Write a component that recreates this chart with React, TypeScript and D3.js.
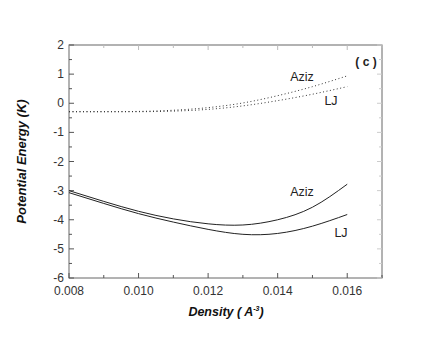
import * as d3 from "d3";

const densities = [0.008, 0.009, 0.010, 0.011, 0.012, 0.013, 0.014, 0.015, 0.016];
const azizSolid = [-3.0, -3.37, -3.71, -3.97, -4.14, -4.18, -4.0, -3.57, -2.78];
const ljSolid = [-3.07, -3.44, -3.79, -4.08, -4.33, -4.5, -4.47, -4.22, -3.82];
const azizDotted = [-0.29, -0.29, -0.28, -0.24, -0.15, 0.01, 0.26, 0.57, 0.94];
const ljDotted = [-0.29, -0.29, -0.29, -0.27, -0.21, -0.09, 0.09, 0.31, 0.57];

const xTicks = [0.008, 0.009, 0.010, 0.011, 0.012, 0.013, 0.014, 0.015, 0.016, 0.017];
const xTickLabels = ["0.008", "", "0.010", "", "0.012", "", "0.014", "", "0.016", ""];
const yTicks = [-6, -5.5, -5, -4.5, -4, -3.5, -3, -2.5, -2, -1.5, -1, -0.5, 0, 0.5, 1, 1.5, 2];

const W = 429;
const H = 346;
const left = 69;
const right = 382;
const top = 45;
const bottom = 278;
const font = "'Liberation Sans', Arial, sans-serif";

export default function App() {
  const x = d3.scaleLinear().domain([0.008, 0.017]).range([left, right]);
  const y = d3.scaleLinear().domain([-6, 2]).range([bottom, top]);

  const line = (vals: number[]) =>
    d3.line<number>()
      .x((_, i) => x(densities[i]))
      .y((d) => y(d))
      .curve(d3.curveNatural)(vals) || "";

  return (
    <svg
      width={W}
      height={H}
      style={{ position: "absolute", left: 0, top: 0, background: "#fff" }}
      fontFamily={font}
    >
      <rect x={left} y={top} width={right - left} height={bottom - top} fill="none" stroke="#666" strokeWidth={1} />

      {xTicks.map((t, i) => {
        const major = i % 2 === 0;
        const len = major ? 5 : 3;
        return (
          <g key={"x" + i}>
            <line x1={x(t)} x2={x(t)} y1={bottom} y2={bottom - len} stroke="#555" />
            <line x1={x(t)} x2={x(t)} y1={top} y2={top + len} stroke="#bbb" />
            {xTickLabels[i] && (
              <text x={x(t)} y={bottom + 17} fontSize={12} textAnchor="middle" fill="#333">
                {xTickLabels[i]}
              </text>
            )}
          </g>
        );
      })}

      {yTicks.map((t, i) => {
        const major = Number.isInteger(t);
        const len = major ? 5 : 3;
        return (
          <g key={"y" + i}>
            <line x1={left} x2={left + len} y1={y(t)} y2={y(t)} stroke="#555" />
            <line x1={right} x2={right - len} y1={y(t)} y2={y(t)} stroke="#ccc" />
            {major && (
              <text x={left - 5} y={y(t) + 4} fontSize={12} textAnchor="end" fill="#333">
                {t}
              </text>
            )}
          </g>
        );
      })}

      <path d={line(azizSolid)} fill="none" stroke="#222" strokeWidth={1} />
      <path d={line(ljSolid)} fill="none" stroke="#222" strokeWidth={1} />
      <path d={line(azizDotted)} fill="none" stroke="#333" strokeWidth={1} strokeDasharray="1 2.5" />
      <path d={line(ljDotted)} fill="none" stroke="#333" strokeWidth={1} strokeDasharray="1 2.5" />

      <text x={302} y={81} fontSize={12.5} textAnchor="middle" fill="#222">Aziz</text>
      <text x={331} y={105} fontSize={12.5} textAnchor="middle" fill="#222">LJ</text>
      <text x={302} y={196} fontSize={12.5} textAnchor="middle" fill="#222">Aziz</text>
      <text x={341} y={237} fontSize={12.5} textAnchor="middle" fill="#222">LJ</text>
      <text x={366} y={66} fontSize={12} fontWeight="bold" textAnchor="middle" fill="#222">( c )</text>

      <text
        transform={`translate(26,${(top + bottom) / 2}) rotate(-90)`}
        fontSize={13}
        fontWeight="bold"
        fontStyle="italic"
        textAnchor="middle"
        fill="#111"
      >
        Potential Energy (K)
      </text>
      <text x={226} y={316} fontSize={12.5} fontWeight="bold" fontStyle="italic" textAnchor="middle" fill="#111">
        Density ( A<tspan dy={-5} fontSize={7}>-3</tspan><tspan dy={5}>)</tspan>
      </text>
    </svg>
  );
}
